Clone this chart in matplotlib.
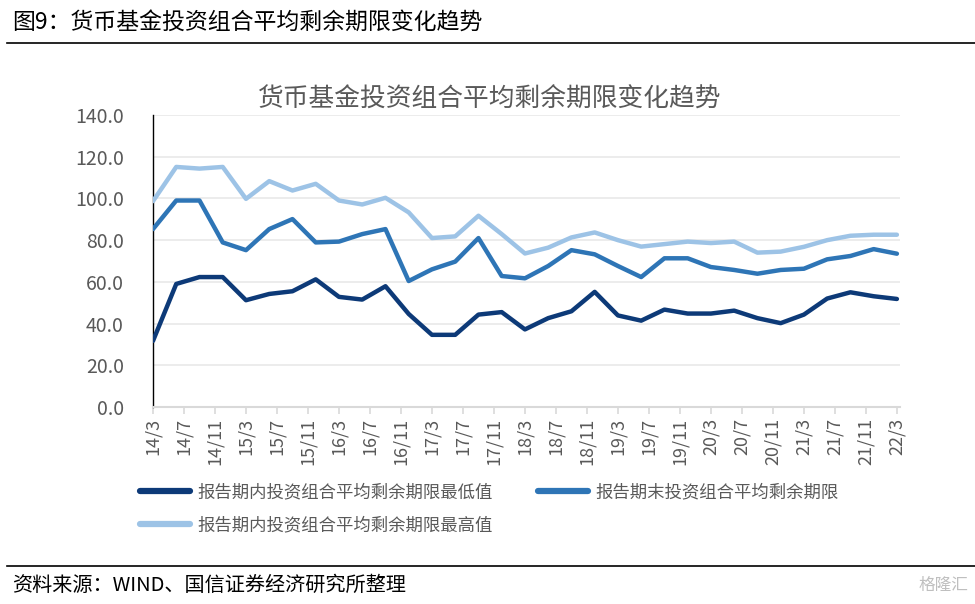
import matplotlib
matplotlib.use("Agg")
import matplotlib.pyplot as plt
from matplotlib.lines import Line2D

plt.rcParams['font.family'] = ['Noto Sans CJK SC', 'DejaVu Sans']

# quarterly observations, 2014/3 .. 2022/3 (months since 2014/3)
months = list(range(0, 97, 3))
low_vals = [31.7, 59.0, 62.3, 62.3, 51.2, 54.2, 55.5, 61.2, 52.8, 51.5, 57.9,
            44.6, 34.6, 34.6, 44.3, 45.5, 37.2, 42.6, 45.9, 55.2, 43.9, 41.4,
            46.7, 44.8, 44.8, 46.2, 42.6, 40.2, 44.3, 52.0, 55.0, 53.1, 51.8]
end_vals = [85.3, 99.0, 99.0, 78.9, 75.2, 85.3, 90.1, 78.9, 79.3, 82.9, 85.3,
            60.4, 66.0, 69.7, 81.0, 62.8, 61.7, 67.6, 75.2, 73.2, 67.6, 62.3,
            71.3, 71.3, 67.1, 65.7, 63.9, 65.7, 66.3, 70.8, 72.4, 75.7, 73.5]
high_vals = [98.7, 115.1, 114.3, 115.1, 99.8, 108.3, 103.8, 107.0, 99.0, 97.1,
             100.3, 93.3, 81.0, 81.8, 91.7, 82.9, 73.6, 76.4, 81.3, 83.7, 80.0,
             76.9, 78.1, 79.3, 78.6, 79.3, 74.0, 74.5, 76.8, 80.0, 82.1, 82.6, 82.6]

# tick labels every 4 months
tick_pos = list(range(0, 97, 4))
tick_labels = ["14/3", "14/7", "14/11", "15/3", "15/7", "15/11", "16/3", "16/7",
               "16/11", "17/3", "17/7", "17/11", "18/3", "18/7", "18/11", "19/3",
               "19/7", "19/11", "20/3", "20/7", "20/11", "21/3", "21/7", "21/11",
               "22/3"]

names = ["报告期内投资组合平均剩余期限最低值",
         "报告期末投资组合平均剩余期限",
         "报告期内投资组合平均剩余期限最高值"]
colors = ["#0D3A78", "#2E75B6", "#9DC3E6"]
gray = "#595959"

fig = plt.figure(figsize=(9.75, 6.04), dpi=100)
ax = fig.add_axes([153 / 975, 1 - 407 / 604, (900 - 153) / 975, (407 - 115) / 604])

for vals, c in [(high_vals, colors[2]), (end_vals, colors[1]), (low_vals, colors[0])]:
    ax.plot(months, vals, color=c, lw=3.2, solid_capstyle="round",
            solid_joinstyle="round", zorder=3)

ax.set_ylim(0, 140)
ax.set_xlim(0, 96.4)
ax.set_yticks(range(0, 141, 20))
ax.set_yticklabels([f"{v:.1f}" for v in range(0, 141, 20)], fontsize=14, color=gray)
ax.set_xticks(tick_pos)
ax.set_xticklabels(tick_labels, rotation=90, fontsize=13, color=gray)
ax.grid(axis="y", color="#EBEBEB", lw=1.3, zorder=0)
for s in ["top", "right"]:
    ax.spines[s].set_visible(False)
ax.spines["left"].set_color("black")
ax.spines["left"].set_linewidth(1.0)
ax.spines["bottom"].set_color("#D9D9D9")
ax.spines["bottom"].set_linewidth(1.5)
ax.tick_params(axis="y", length=0, pad=21)
ax.tick_params(axis="x", length=5, color="#D9D9D9", width=1.2, pad=3)

fig.text(489 / 975, 1 - 100 / 604, "货币基金投资组合平均剩余期限变化趋势",
         fontsize=18.5, color=gray, ha="center", va="center")

handles = [Line2D([], [], color=c, lw=4.5, solid_capstyle="round") for c in colors]
order = [0, 2, 1]
fig.legend([handles[i] for i in order], [names[i] for i in order], ncol=2,
           loc="upper left", bbox_to_anchor=(0.1436, 0.200), frameon=False,
           fontsize=12.5, labelcolor=gray, handlelength=2.9, handletextpad=0.4,
           columnspacing=2.6, labelspacing=0.85, borderpad=0, borderaxespad=0)

# header / footer
fig.text(12 / 975, 1 - 22 / 604, "图9：货币基金投资组合平均剩余期限变化趋势",
         fontsize=16.5, color="black", va="center", ha="left")
fig.add_artist(Line2D([7 / 975, 1], [1 - 43 / 604] * 2, color="black", lw=1.2))
fig.add_artist(Line2D([7 / 975, 1], [1 - 566 / 604] * 2, color="black", lw=1.2))
fig.text(12 / 975, 1 - 585 / 604, "资料来源：WIND、国信证券经济研究所整理",
         fontsize=14.5, color="black", va="center", ha="left")
fig.text(968 / 975, 1 - 585 / 604, "格隆汇", fontsize=12, color="#BFBFBF",
         va="center", ha="right")

fig.savefig("out.png", dpi=100)
